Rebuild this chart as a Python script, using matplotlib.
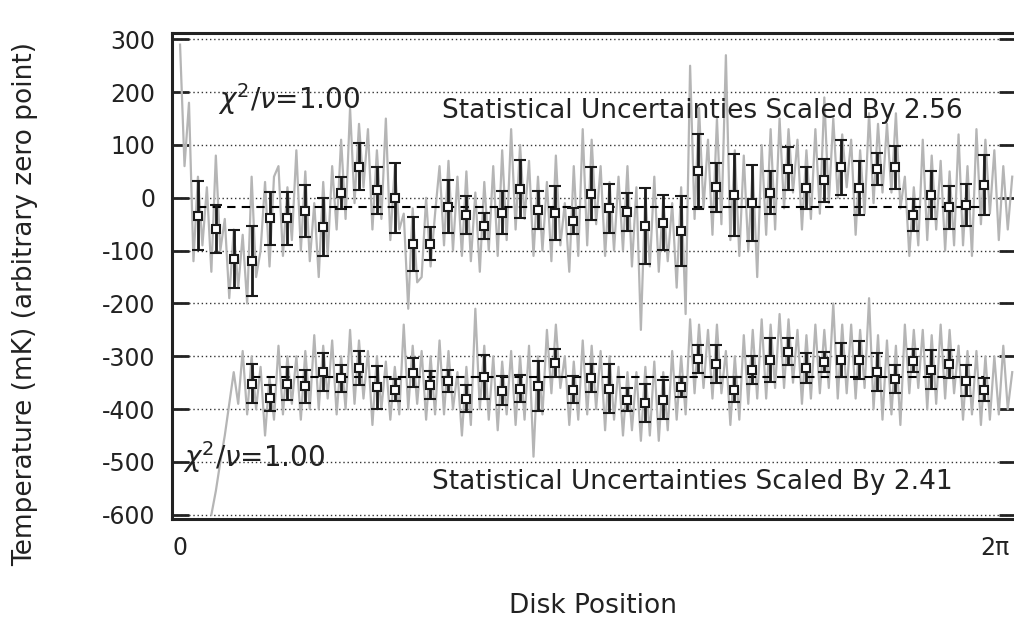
import numpy as np
import matplotlib
matplotlib.use("Agg")
import matplotlib.pyplot as plt

# ---- data ----
# bin centres (disk position, rad) for the error-bar points
bin_start, bin_end, n_bins = 0.139, 6.202, 45

upper_mean = [-34, -59, -115, -120, -39, -39, -25, -56, 9, 59,
              14, -1, -88, -87, -17, -33, -53, -28, 17, -23,
              -28, -44, 8, -20, -26, -53, -47, -63, 50, 20,
              5, -10, 10, 55, 18, 33, 58, 18, 55, 58,
              -33, 5, -18, -14, 25]
upper_err = [65, 45, 55, 66, 50, 50, 50, 55, 30, 45,
             45, 66, 51, 31, 50, 36, 25, 41, 55, 36,
             51, 25, 50, 46, 36, 72, 52, 67, 71, 46,
             78, 72, 40, 41, 40, 41, 52, 51, 30, 41,
             30, 46, 41, 40, 57]

# lower series starts at bin 3
lower_first_bin = 3
lower_mean = [-352, -379, -352, -357, -330, -342, -322, -359, -364, -331,
              -354, -346, -380, -339, -365, -361, -356, -313, -363, -341,
              -361, -382, -389, -382, -358, -305, -315, -363, -326, -307,
              -291, -322, -310, -307, -307, -329, -343, -308, -325, -315,
              -346, -363]
lower_err = [37, 25, 31, 31, 36, 25, 32, 41, 21, 27,
             26, 21, 25, 42, 27, 26, 47, 27, 25, 26,
             47, 22, 36, 37, 19, 26, 36, 24, 27, 41,
             26, 29, 19, 33, 36, 36, 27, 21, 37, 26,
             30, 21]

upper_ref = -18
lower_ref = -340

# raw gray traces, sampled every 0.0345 rad from 0
trace_step = 0.0345
upper_trace = [290, 60,
    180, -120, 40, -90,   20, -140, 80, -100,   -40, -190, -60, -170,
    -70, -200, 40, -150,  -100, 30, -130, 40,   60, -110, 20, -80,
    90, -100, 50, -120,   -10, -150, 30, -110,  60, -60, 110, -40,
    170, -10, 140, 20,    130, -60, 90, -40,    150, -80, 60, -60,
    -30, -210, -20, -160, -150, 0, -130, -30,   60, -90, 70, -100,
    40, -110, 50, -120,   10, -140, 30, -100,   60, -110, 90, -80,
    130, -60, 100, -40,   70, -110, 40, -100,   30, -120, 80, -90,
    -10, -140, 60, -110,  130, -90, 110, -50,   60, -110, 30, -100,
    40, -100, 60, -130,   20, -250, 10, -130,   40, -140, 0, -120,
    -10, -170, 20, -220,  250, -40, 170, -20,   110, -70, 150, -50,
    270, -80, 90, -110,   80, -100, 60, -150,   100, -70, 130, -60,
    150, -20, 130, 10,    110, -60, 90, -40,    130, -30, 190, -10,
    150, 0, 120, 20,      110, -70, 90, -30,    160, -10, 140, 10,
    140, 10, 160, -20,    40, -110, 20, -90,    110, -80, 80, -60,
    70, -100, 50, -90,    120, -90, 60, -110,   130, -50, 110, -30,
    90, -80, 60, -60, 40]

lower_trace_start = 7
lower_trace = [-600, -555, -500, -450, -390, -330, -390,
    -290, -410, -300, -400,  -320, -450, -340, -420,  -280, -410, -300, -390,
    -300, -420, -290, -400,  -260, -400, -280, -380,  -270, -410, -300, -400,
    -250, -390, -270, -380,  -290, -430, -300, -400,  -310, -420, -320, -410,
    -240, -400, -280, -390,  -290, -420, -300, -410,  -270, -410, -290, -400,
    -330, -450, -320, -430,  -210, -400, -280, -420,  -300, -440, -310, -410,
    -290, -430, -300, -420,  -280, -490, -300, -410,  -250, -370, -240, -360,
    -300, -430, -310, -420,  -270, -410, -280, -400,  -290, -440, -300, -420,
    -320, -450, -330, -440,  -330, -460, -320, -450,  -310, -460, -330, -440,
    -290, -420, -300, -410,  -230, -370, -240, -360,  -250, -380, -240, -370,
    -290, -430, -300, -420,  -260, -390, -250, -380,  -230, -380, -240, -360,
    -220, -360, -230, -350,  -250, -390, -260, -380,  -240, -370, -250, -360,
    -200, -380, -240, -370,  -240, -380, -250, -360,  -190, -400, -260, -420,
    -270, -410, -280, -430,  -240, -370, -250, -360,  -250, -400, -260, -390,
    -240, -380, -250, -370,  -280, -420, -290, -410,  -290, -430, -300, -420,
    -300, -410, -280, -400, -330]

y_ticks = list(range(-600, 301, 100))
x_tick_labels = ["0", "2\u03c0"]

# ---- figure ----
fig = plt.figure(figsize=(10.14, 6.19), dpi=100)
ax = fig.add_axes([172 / 1014, 1 - 519 / 619, 844 / 1014, 486 / 619])

xb = np.linspace(bin_start, bin_end, n_bins)
xt_u = np.arange(len(upper_trace)) * trace_step
xt_l = (np.arange(len(lower_trace)) + lower_trace_start) * trace_step
xl = xb[lower_first_bin:lower_first_bin + len(lower_mean)]

ax.plot(xt_u, upper_trace, color="#b5b5b5", lw=1.6, zorder=2)
ax.plot(xt_l, lower_trace, color="#b5b5b5", lw=1.6, zorder=2)

# dotted grid
for yv in y_ticks:
    ax.axhline(yv, color="#333333", lw=1, ls=(0, (1, 2)), zorder=1)

# dashed reference levels
ax.hlines(upper_ref, xb[0], xb[-1], color="black", lw=1.5, ls=(0, (4, 3)), zorder=3)
ax.hlines(lower_ref, xl[0], xl[-1], color="black", lw=1.5, ls=(0, (4, 3)), zorder=3)

eb = dict(fmt="s", color="#1a1a1a", ecolor="#1a1a1a", elinewidth=2, capsize=4.5,
          capthick=2.2, ms=6, mfc="white", mec="#1a1a1a", mew=1.5, zorder=4)
ax.errorbar(xb, upper_mean, yerr=upper_err, **eb)
ax.errorbar(xl, lower_mean, yerr=lower_err, **eb)

ax.set_xlim(-0.062, 6.446)
ax.set_ylim(-608, 312)

ax.set_yticks(y_ticks)
ax.set_yticklabels([str(v) for v in y_ticks], fontsize=17)
ax.tick_params(axis="y", direction="in", length=12, width=2, pad=12,
               right=True, colors="#222222")
ax.set_xticks([0, 2 * np.pi])
ax.set_xticklabels(x_tick_labels, fontsize=17)
ax.tick_params(axis="x", length=0, pad=12, colors="#222222")

for s in ["left", "top", "bottom", "right"]:
    ax.spines[s].set_linewidth(2.2)
    ax.spines[s].set_color("#222222")

# annotations
ax.text(0.29, 168, r"$\chi^2/\nu$=1.00", fontsize=20, color="#222222", va="baseline")
ax.text(2.02, 151, "Statistical Uncertainties Scaled By 2.56", fontsize=19,
        color="#222222", va="baseline")
ax.text(0.02, -510, r"$\chi^2/\nu$=1.00", fontsize=20, color="#222222", va="baseline")
ax.text(1.94, -552, "Statistical Uncertainties Scaled By 2.41", fontsize=19,
        color="#222222", va="baseline")

fig.text(25 / 1014, 1 - 304 / 619, "Temperature (mK) (arbitrary zero point)",
         rotation=90, ha="center", va="center", fontsize=19, color="#222222")
fig.text(593 / 1014, 1 - 606 / 619, "Disk Position", ha="center", va="center",
         fontsize=19, color="#222222")

fig.savefig("out.png", dpi=100)
